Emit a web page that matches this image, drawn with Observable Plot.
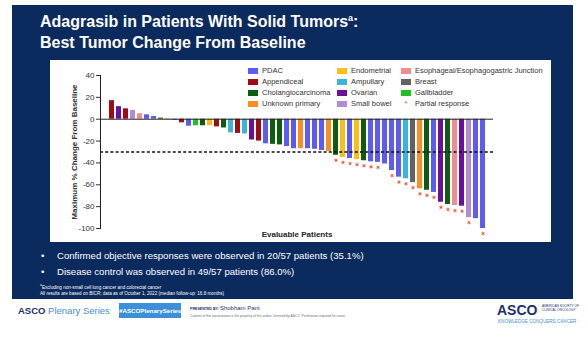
<!DOCTYPE html>
<html>
<head>
<meta charset="utf-8">
<script src="https://cdn.jsdelivr.net/npm/d3@7"></script>
<script src="https://cdn.jsdelivr.net/npm/@observablehq/plot@0.6"></script>
<style>
  html, body { margin: 0; padding: 0; background: #fff; }
  body { width: 588px; height: 337px; position: relative; overflow: hidden; font-family: "Liberation Sans", Arial, sans-serif; }
  .abs { position: absolute; }
  #navy { left: 12px; top: 5px; width: 561px; height: 294px; background: #0b2a5e; }
  #title { left: 40px; top: 11px; color: #fff; font-weight: bold; font-size: 16px; line-height: 21px; white-space: nowrap; }
  #title sup { font-size: 9px; vertical-align: 6px; line-height: 0; }
  #panel { left: 50px; top: 60px; width: 501px; height: 182px; background: #fff; }
  #panel svg { position: absolute; left: 0; top: 0; }
  g[aria-label="y-axis label"] text { font-weight: bold; }
  .leg { font-size: 7.5px; color: #333; white-space: nowrap; line-height: 9px; }
  .sw { display: inline-block; width: 10px; height: 6px; vertical-align: -0.5px; margin-right: 4px; }
  .bul { color: #fff; font-size: 9.6px; line-height: 12px; white-space: nowrap; }
  .fn { color: #fff; font-size: 4.6px; white-space: nowrap; line-height: 5.5px; }
  .ft { white-space: nowrap; }
</style>
</head>
<body>
<div id="navy" class="abs"></div>
<div id="title" class="abs">Adagrasib in Patients With Solid Tumors<sup>a</sup>:<br>Best Tumor Change From Baseline</div>
<div id="panel" class="abs"></div>
<div id="legend"></div>
<div class="abs bul" style="left:41px; top:250px;">•</div>
<div class="abs bul" style="left:57px; top:250px;">Confirmed objective responses were observed in 20/57 patients (35.1%)</div>
<div class="abs bul" style="left:41px; top:266px;">•</div>
<div class="abs bul" style="left:57px; top:266px;">Disease control was observed in 49/57 patients (86.0%)</div>
<div class="abs fn" style="left:40px; top:285px;"><sup style="font-size:3.5px; line-height:0;">a</sup>Excluding non-small cell lung cancer and colorectal cancer<br>All results are based on BICR; data as of October 1, 2022 (median follow-up: 16.8 months)</div>

<div class="abs ft" style="left:18px; top:305px; font-size:9.5px; line-height:11px;"><span style="font-weight:bold; color:#1d2f6a;">ASCO</span><span style="color:#3f8fd6;"> Plenary Series</span></div>
<div class="abs" style="left:119px; top:303px; width:62px; height:15px; background:#3d8fd8; color:#fff; font-weight:bold; font-size:6.2px; line-height:15px; text-align:center; white-space:nowrap;">#ASCOPlenarySeries</div>
<div class="abs ft" style="left:190px; top:305px; color:#1d2f6a; font-size:6px; line-height:7px;"><span style="font-size:3.6px; font-weight:bold;">PRESENTED BY: </span>Shubham Pant</div>
<div class="abs ft" style="left:190px; top:314px; color:#5a6a8a; font-size:3.3px; line-height:4px;">Content of this presentation is the property of the author, licensed by ASCO. Permission required for reuse.</div>
<div class="abs ft" style="left:497px; top:303px; font-size:14px; line-height:15px; font-weight:bold; color:#1d2f6a;">ASCO</div>
<div class="abs ft" style="left:542px; top:305px; font-size:3.2px; line-height:3.8px; color:#1d2f6a;">AMERICAN SOCIETY OF<br>CLINICAL ONCOLOGY</div>
<div class="abs ft" style="left:498px; top:319px; font-size:4.6px; line-height:5px; color:#3f8fd6;">KNOWLEDGE CONQUERS CANCER</div>

<script>
// Tumor types and colors
const types = ["PDAC", "Appendiceal", "Cholangiocarcinoma", "Unknown primary",
               "Endometrial", "Ampullary", "Ovarian", "Small bowel",
               "Esophageal/Esophagogastric Junction", "Breast", "Gallbladder"];
const typeColors = ["#5c5cf2", "#a10c12", "#0e5c12", "#f98f22",
                    "#f9bf14", "#35b6da", "#6c109c", "#b18bd4",
                    "#f28c8c", "#626262", "#1fc01f"];
const prLabel = "Partial response";
const prColor = "#e4593f";

// Per patient (waterfall order)
const patientType = [
  "Appendiceal", "Ovarian", "Appendiceal", "Small bowel", "Esophageal/Esophagogastric Junction",
  "PDAC", "PDAC", "Cholangiocarcinoma", "Unknown primary", "PDAC",
  "Appendiceal", "PDAC", "Gallbladder", "Cholangiocarcinoma", "Endometrial",
  "Appendiceal", "Cholangiocarcinoma", "Ampullary", "Appendiceal", "Ampullary",
  "Ovarian", "Appendiceal", "PDAC", "Cholangiocarcinoma", "Cholangiocarcinoma",
  "PDAC", "PDAC", "Unknown primary", "PDAC", "PDAC",
  "PDAC", "Unknown primary", "Cholangiocarcinoma", "Endometrial", "PDAC",
  "Endometrial", "Cholangiocarcinoma", "PDAC", "PDAC", "PDAC",
  "PDAC", "PDAC", "Ampullary", "Breast", "Unknown primary",
  "Cholangiocarcinoma", "PDAC", "Ovarian", "Cholangiocarcinoma", "Esophageal/Esophagogastric Junction",
  "Ovarian", "Small bowel", "PDAC", "PDAC"
];
const bestChange = [
  17, 11.5, 9.5, 8, 5,
  4, 2.5, 1, 0.5, -1,
  -3.3, -6.4, -6, -6, -6,
  -7, -8, -12.5, -13, -13.5,
  -19, -20, -22.5, -23, -23.5,
  -25, -27, -27, -27, -27.5,
  -28.6, -29.5, -33, -35, -36,
  -37, -38, -39, -39.5, -41,
  -47, -53, -54.5, -58, -63.7,
  -65, -67, -76, -78, -79,
  -79.6, -90, -91, -100
];
const partialResponse = [
  0,0,0,0,0, 0,0,0,0,0, 0,0,0,0,0, 0,0,0,0,0, 0,0,0,0,0, 0,0,0,0,0,
  0,0,1,1,1, 1,1,1,1,0, 1,1,1,1,1, 1,1,1,1,1, 1,1,0,1
];
const yTicks = [40, 20, 0, -20, -40, -60, -80, -100];
const responseThreshold = -30;
const xLabel = "Evaluable Patients";
const yLabel = "Maximum % Change From Baseline";

const data = bestChange.map((v, i) => ({i, v, type: patientType[i], pr: partialResponse[i] === 1}));

const chart = Plot.plot({
  width: 501,
  height: 182,
  marginTop: 15,
  marginBottom: 14,
  marginLeft: 50,
  marginRight: 58,
  style: {fontFamily: "Liberation Sans, Arial, sans-serif", fontSize: "8px", color: "#333", background: "transparent"},
  x: {type: "band", domain: d3.range(data.length), paddingInner: 0.3, paddingOuter: 0.1, axis: null},
  y: {domain: [-100, 40], ticks: yTicks},
  color: {domain: types, range: typeColors},
  marks: [
    Plot.barY(data, {x: "i", y: "v", fill: "type"}),
    Plot.ruleY([0], {stroke: "#222", strokeWidth: 1}),
    Plot.ruleY([responseThreshold], {stroke: "#111", strokeWidth: 1.3, strokeDasharray: "3,2.2"}),
    Plot.dot(data.filter(d => d.pr), {x: "i", y: "v", symbol: "asterisk", r: 1.6, stroke: prColor, strokeWidth: 1, dy: 5}),
    Plot.axisY({ticks: yTicks, tickSize: 4, tickPadding: 2, tickFormat: d => String(d), label: yLabel, labelAnchor: "center", labelArrow: "none", labelOffset: 29, fontSize: 8}),
    Plot.frame({anchor: "left", stroke: "#222"}),
    Plot.text([xLabel], {frameAnchor: "bottom", dy: 8, fontWeight: "bold", fontSize: 8, fill: "#222"})
  ]
});
document.getElementById("panel").appendChild(chart);

// Legend built from the arrays
const legendCols = [
  {x: 248, items: types.slice(0, 4)},
  {x: 337, items: types.slice(4, 8)},
  {x: 401, items: types.slice(8, 11).concat([prLabel])}
];
const rowY = [66, 77, 88, 99];
const legend = document.getElementById("legend");
legendCols.forEach(col => {
  col.items.forEach((name, r) => {
    const el = document.createElement("div");
    el.className = "abs leg";
    el.style.left = col.x + "px";
    el.style.top = rowY[r] + "px";
    if (name === prLabel) {
      el.innerHTML = `<span style="display:inline-block;width:10px;margin-right:4px;text-align:center;color:${prColor};font-size:8px;">*</span>${name}`;
    } else {
      const c = typeColors[types.indexOf(name)];
      el.innerHTML = `<span class="sw" style="background:${c}"></span>${name}`;
    }
    legend.appendChild(el);
  });
});
</script>
</body>
</html>
